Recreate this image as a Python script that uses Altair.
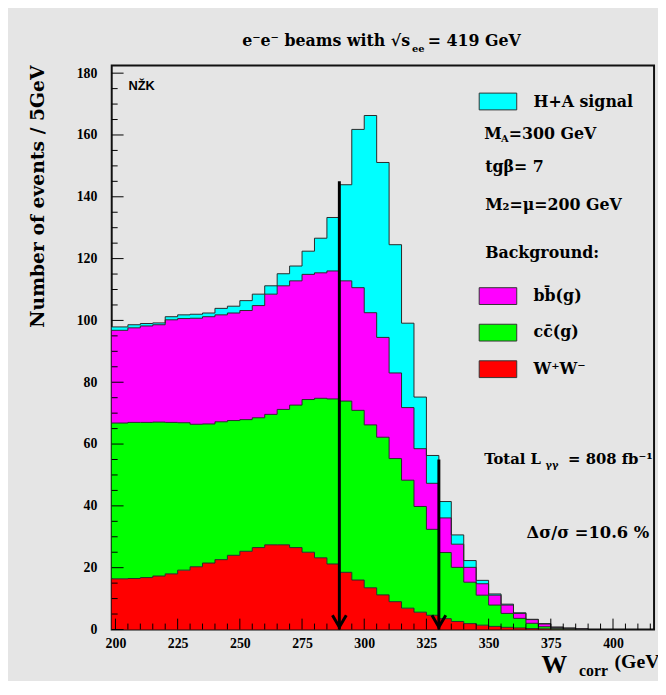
import altair as alt
import pandas as pd

# W_corr bins, 5 GeV wide (lower edges)
bin_lo = list(range(200, 390, 5))

# events per bin for every process
ww = [16.4, 16.5, 16.8, 17.3, 18.0, 19.2, 20.3, 21.5, 22.6, 24.0,
      25.3, 26.5, 27.4, 27.4, 26.5, 25.0, 23.2, 21.2, 18.5, 16.0,
      13.5, 11.2, 9.0, 6.9, 5.6, 4.6, 3.5, 2.6, 1.9, 1.4,
      1.0, 0.7, 0.5, 0.3, 0.2, 0.1, 0.1, 0.0]
cc = [50.4, 50.5, 50.2, 49.8, 49.0, 47.7, 46.1, 45.0, 44.6, 43.6,
      42.6, 42.0, 42.2, 43.8, 46.1, 49.4, 51.6, 53.4, 55.4, 54.9,
      52.7, 51.0, 46.3, 41.4, 34.2, 27.8, 21.4, 17.5, 13.4, 9.7,
      6.9, 4.5, 3.1, 1.7, 0.7, 0.3, 0.1, 0.1]
bb = [30.0, 30.6, 31.2, 31.5, 33.2, 33.7, 34.3, 34.7, 34.6, 34.8,
      35.3, 36.3, 38.9, 40.0, 40.2, 40.5, 40.6, 41.4, 38.9, 39.7,
      36.3, 32.3, 27.7, 23.5, 18.7, 14.9, 11.2, 7.5, 4.8, 3.7,
      3.2, 2.7, 1.6, 1.2, 0.9, 0.3, 0.2, 0.1]
sig = [1.1, 1.0, 0.8, 0.6, 1.0, 1.2, 1.3, 1.2, 2.1, 2.2,
       3.2, 3.7, 2.7, 3.9, 4.8, 7.5, 11.2, 17.3, 31.1, 51.2,
       63.8, 56.6, 41.5, 27.3, 16.7, 9.0, 5.3, 3.0, 2.2, 1.1,
       0.4, 0.3, 0.2, 0.1, 0.1, 0.1, 0.1, 0.0]

processes = ['WW', 'cc', 'bb', 'signal']
colors = ['#ff0000', '#00ff00', '#ff00ff', '#00ffff']

# selection cuts (arrows)
cut_x = [290, 330]
cut_top = [145, 55]

x_labels = [200, 225, 250, 275, 300, 325, 350, 375, 400]
y_labels = [0, 20, 40, 60, 80, 100, 120, 140, 160, 180]

X_MIN, X_MAX = 198.5, 416.5
W, H = 549, 571
FONT = 'Liberation Serif'
TFONT = 'DejaVu Serif'

# stacked layers -> bottom/top per bin, step-after needs a closing point
n = len(bin_lo)
edges = [X_MIN] + bin_lo[1:] + [bin_lo[-1] + 5]
rows = []
base = [0.0] * n
for name, vals in zip(processes, [ww, cc, bb, sig]):
    for i, x in enumerate(edges):
        j = min(i, n - 1)
        rows.append({'proc': name, 'x': x, 'lo': base[j], 'hi': base[j] + vals[j]})
    base = [b + v for b, v in zip(base, vals)]
hist = pd.DataFrame(rows)

x_enc = alt.X('x:Q', scale=alt.Scale(domain=[X_MIN, X_MAX], nice=False, zero=False),
              axis=alt.Axis(values=x_labels, title=None, ticks=False, domain=False, grid=False,
                            labelFont=FONT, labelFontWeight='bold', labelFontSize=14,
                            labelPadding=7, labelFlush=False, labelColor='black'))
y_enc = alt.Y('hi:Q', stack=None, scale=alt.Scale(domain=[0, 182.5], nice=False),
              axis=alt.Axis(values=y_labels, title=None, ticks=False, domain=False, grid=False,
                            labelFont=FONT, labelFontWeight='bold', labelFontSize=14,
                            labelPadding=15, labelColor='black'))

areas = alt.Chart(hist).mark_area(interpolate='step-after').encode(
    x=x_enc,
    y=y_enc,
    y2='lo:Q',
    color=alt.Color('proc:N', scale=alt.Scale(domain=processes, range=colors), legend=None)
)
outline = alt.Chart(hist).mark_line(interpolate='step-after', color='#2a2a2a', strokeWidth=1).encode(
    x='x:Q', y='hi:Q', detail='proc:N'
)

cuts = pd.DataFrame({'x': cut_x, 'top': cut_top})
arrows = alt.Chart(cuts).mark_rule(color='black', strokeWidth=3).encode(
    x='x:Q', y='top:Q', y2=alt.datum(0)
)
heads = alt.Chart(cuts).mark_point(shape='M -1 -1.7 L 0 0 L 1 -1.7', filled=False,
                                    color='black', strokeWidth=3, size=196, opacity=1).encode(
    x='x:Q', y=alt.datum(0.8)
)

# ROOT-style ticks inside the frame
yt = pd.DataFrame({'v': list(range(0, 185, 5))})
yt['major'] = yt['v'] % 20 == 0
ytick_major = alt.Chart(yt[yt['major']]).mark_rule(color='black', strokeWidth=1).encode(
    y='v:Q', x=alt.value(0), x2=alt.value(12))
ytick_minor = alt.Chart(yt[~yt['major']]).mark_rule(color='black', strokeWidth=1).encode(
    y='v:Q', x=alt.value(0), x2=alt.value(6))
xt = pd.DataFrame({'v': list(range(200, 420, 5))})
xt = xt[xt['v'] < X_MAX]
xt['major'] = xt['v'] % 25 == 0
xtick_major = alt.Chart(xt[xt['major']]).mark_rule(color='black', strokeWidth=1).encode(
    x='v:Q', y=alt.value(H), y2=alt.value(H - 11))
xtick_minor = alt.Chart(xt[~xt['major']]).mark_rule(color='black', strokeWidth=1).encode(
    x='v:Q', y=alt.value(H), y2=alt.value(H - 6))


def txt(s, x, y, size=16, font=TFONT, align='left', angle=0):
    return alt.Chart(pd.DataFrame({'s': [s]})).mark_text(
        font=font, fontSize=size, fontWeight='bold', align=align, baseline='middle',
        angle=angle, color='black'
    ).encode(x=alt.value(x), y=alt.value(y), text='s:N')


def swatch(color, y):
    return alt.Chart(pd.DataFrame({'c': [color]})).mark_rect(
        fill=color, stroke='#333333', strokeWidth=1
    ).encode(x=alt.value(372), x2=alt.value(410), y=alt.value(y), y2=alt.value(y + 17))


texts = [
    # title
    txt('e\u207be\u207b beams with \u221as', 302, -25, size=16, align='right'),
    txt('ee', 304, -17, size=10),
    txt('= 419 GeV', 320, -25, size=16),
    # axis titles
    txt('Number of events / 5GeV', -75, 0, size=19, align='right', angle=270),
    txt('W', 435, 607, size=26, font=FONT),
    txt('corr', 473, 613, size=16, font=FONT),
    txt('(GeV)', 509, 604, size=20, font=FONT),
    # corner tag
    txt('N\u017dK', 17, 21, size=13, font='Liberation Sans'),
    # legend
    swatch(colors[3], 28),
    txt('H+A signal', 427, 37),
    txt('M', 377, 69),
    txt('A', 394, 75, size=10),
    txt('=300 GeV', 402, 69),
    txt('tg\u03b2= 7', 378, 103),
    txt('M\u2082=\u03bc=200 GeV', 378, 141),
    txt('Background:', 378, 190),
    swatch(colors[2], 225),
    txt('bb\u0304(g)', 427, 233),
    swatch(colors[1], 262),
    txt('cc\u0304(g)', 427, 270),
    swatch(colors[0], 299),
    txt('W\u207aW\u207b', 427, 307),
    # annotations
    txt('Total L', 377, 398, size=15),
    txt('\u03b3\u03b3', 439, 405, size=10),
    txt('= 808 fb\u207b\u00b9', 462, 398, size=15),
    txt('\u0394\u03c3/\u03c3 =10.6 %', 420, 473, size=16.5),
]

chart = alt.layer(
    areas, outline, arrows, heads,
    ytick_major, ytick_minor, xtick_major, xtick_minor,
    *texts
).properties(
    width=W,
    height=H,
    autosize=alt.AutoSizeParams(type='none'),
    padding={'left': 105, 'top': 54, 'right': 4, 'bottom': 48},
    background='#e5e5e5'
).configure_view(
    stroke='#111111',
    strokeWidth=2
)

chart.save('out.html', embed_options={'renderer': 'svg', 'actions': False})
